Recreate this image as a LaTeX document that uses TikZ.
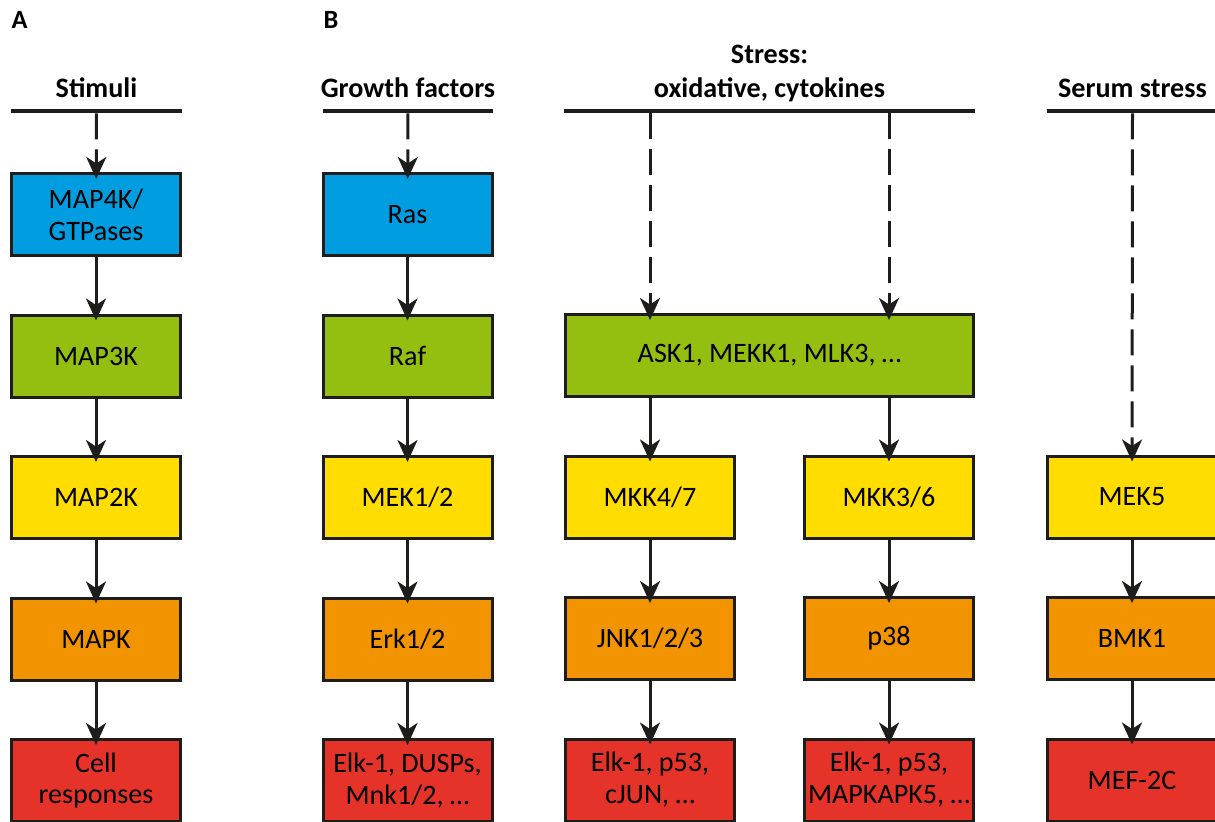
\documentclass[tikz,border=0pt]{standalone}
\usepackage{fontspec}
\setmainfont{Carlito}
\usetikzlibrary{positioning,arrows.meta}
\definecolor{kinblue}{RGB}{0,158,224}
\definecolor{kingreen}{RGB}{149,191,16}
\definecolor{kinyellow}{RGB}{255,221,0}
\definecolor{kinorange}{RGB}{242,148,0}
\definecolor{kinred}{RGB}{230,51,42}
\definecolor{ink}{RGB}{29,29,27}

\begin{document}
\begin{tikzpicture}[
    font=\fontsize{16}{18.2}\selectfont,
    node distance=1.13cm,
    box/.style={draw=ink, line width=0.06cm, minimum width=3.38cm, minimum height=1.64cm, align=center, inner sep=0pt},
    bar/.style={fill=ink, minimum height=0.085cm, inner sep=0pt},
    head/.style={font=\fontsize{16}{19.3}\selectfont\bfseries, align=center, anchor=south, inner sep=0pt, text depth=0pt},
    panel/.style={font=\fontsize{15}{17}\selectfont\bfseries, anchor=base},
    link/.style={draw=ink, line width=0.06cm, shorten >=-0.14cm, -{Stealth[length=0.44cm, width=0.4cm, inset=0.13cm]}},
    dashlink/.style={link, dash pattern=on 0.52cm off 0.2cm},
  ]
  \clip (0, 0) rectangle (24.3, -16.42);

  % Panel letters
  \node[panel] (panA) at (0.39, -0.56) {A};
  \node[panel] (panB) at (6.62, -0.56) {B};

  % Stimuli headers
  \node[head] (stimuli) at (1.93, -1.96) {Stimuli};
  \node[head] (growth) at (8.16, -1.96) {Growth factors};
  \node[head] (stress) at (15.39, -1.96) {Stress:\\oxidative, cytokines};
  \node[head] (serum) at (22.65, -1.96) {Serum stress};
  \node[bar, minimum width=3.42cm] (stimbar) at (1.93, -2.22) {};
  \node[bar, minimum width=3.4cm] (growthbar) at (8.16, -2.22) {};
  \node[bar, minimum width=8.22cm] (stressbar) at (15.39, -2.22) {};
  \node[bar, minimum width=3.42cm] (serumbar) at (22.65, -2.22) {};

  % Panel A: generic cascade
  \node[box, fill=kinblue] (map4k) at (1.92, -4.29) {MAP4K/\\GTPases};
  \node[box, fill=kingreen, below=of map4k] (map3k) {MAP3K};
  \node[box, fill=kinyellow, below=of map3k] (map2k) {MAP2K};
  \node[box, fill=kinorange, below=of map2k] (mapk) {MAPK};
  \node[box, fill=kinred, below=of mapk] (cellresp) {Cell\\responses};

  % Panel B: Erk pathway
  \node[box, fill=kinblue] (ras) at (8.15, -4.29) {Ras};
  \node[box, fill=kingreen, below=of ras] (raf) {Raf};
  \node[box, fill=kinyellow, below=of raf] (mek12) {MEK1/2};
  \node[box, fill=kinorange, below=of mek12] (erk12) {Erk1/2};
  \node[box, fill=kinred, below=of erk12] (erktargets) {Elk-1, DUSPs,\\Mnk1/2, \dots};

  % Panel B: stress pathways
  \node[box, fill=kingreen, minimum width=8.16cm] (ask) at (15.39, -7.11) {ASK1, MEKK1, MLK3, \dots};
  \node[box, fill=kinyellow, below=of ask.south west, anchor=north west] (mkk47) {MKK4/7};
  \node[box, fill=kinorange, below=of mkk47] (jnk) {JNK1/2/3};
  \node[box, fill=kinred, below=of jnk] (jnktargets) {Elk-1, p53,\\cJUN, \dots};
  \node[box, fill=kinyellow, below=of ask.south east, anchor=north east] (mkk36) {MKK3/6};
  \node[box, fill=kinorange, below=of mkk36] (p38) {p38};
  \node[box, fill=kinred, below=of p38] (p38targets) {Elk-1, p53,\\MAPKAPK5, \dots};

  % Panel B: serum pathway
  \node[box, fill=kinyellow, right=1.42cm of mkk36] (mek5) {MEK5};
  \node[box, fill=kinorange, below=of mek5] (bmk1) {BMK1};
  \node[box, fill=kinred, below=of bmk1] (mef2c) {MEF-2C};

  % Stimulus arrows
  \draw[dashlink] (stimbar) -- (map4k);
  \draw[dashlink] (growthbar) -- (ras);
  \draw[dashlink] (stressbar.south -| mkk47) -- (ask.north -| mkk47);
  \draw[dashlink] (stressbar.south -| mkk36) -- (ask.north -| mkk36);
  \draw[dashlink] (serumbar) -- (mek5);

  % Cascade arrows
  \draw[link] (map4k) -- (map3k);
  \draw[link] (map3k) -- (map2k);
  \draw[link] (map2k) -- (mapk);
  \draw[link] (mapk) -- (cellresp);
  \draw[link] (ras) -- (raf);
  \draw[link] (raf) -- (mek12);
  \draw[link] (mek12) -- (erk12);
  \draw[link] (erk12) -- (erktargets);
  \draw[link] (ask.south -| mkk47) -- (mkk47);
  \draw[link] (mkk47) -- (jnk);
  \draw[link] (jnk) -- (jnktargets);
  \draw[link] (ask.south -| mkk36) -- (mkk36);
  \draw[link] (mkk36) -- (p38);
  \draw[link] (p38) -- (p38targets);
  \draw[link] (mek5) -- (bmk1);
  \draw[link] (bmk1) -- (mef2c);
\end{tikzpicture}
\end{document}
